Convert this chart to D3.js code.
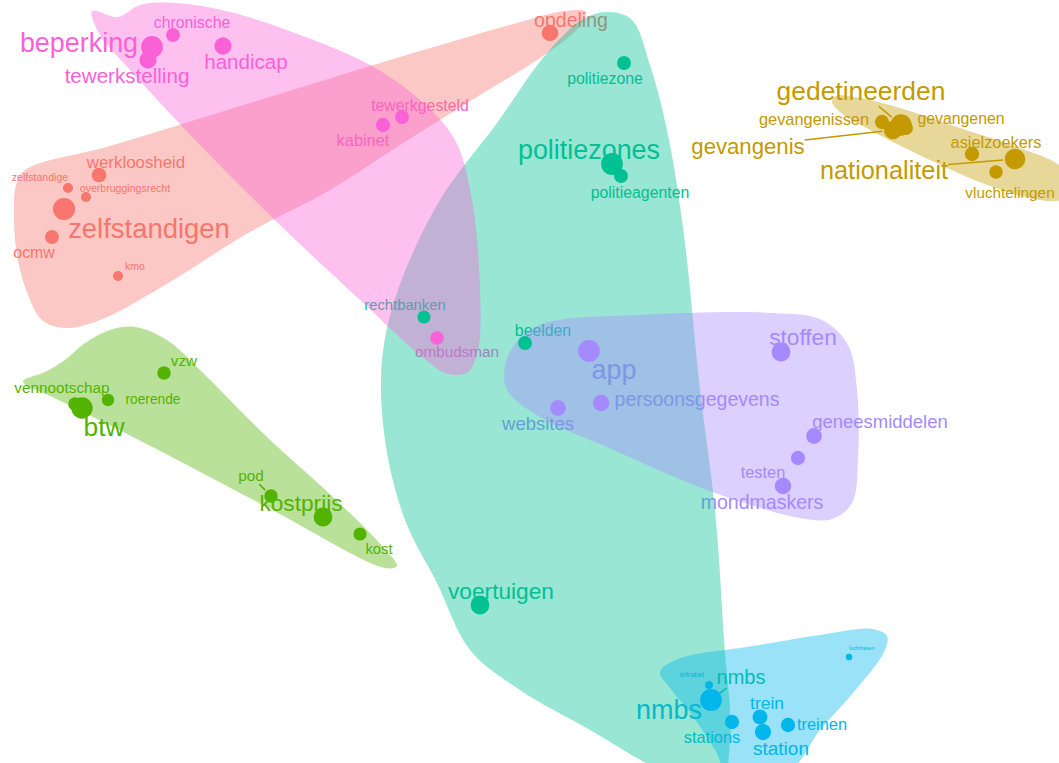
<!DOCTYPE html>
<html>
<head>
<meta charset="utf-8">
<script src="https://cdn.jsdelivr.net/npm/d3@7"></script>
<style>
  body { margin: 0; background: #fff; }
  svg { display: block; font-family: "Liberation Sans", Arial, sans-serif; }
</style>
</head>
<body>
<div id="app"></div>
<script>
// Words, their cluster, embedding position and frequency
const words = [
  "werkloosheid", "zelfstandige", "overbruggingsrecht", "zelfstandigen", "ocmw", "kmo", "opdeling",
  "gedetineerden", "gevangenissen", "gevangenen", "gevangenis", "asielzoekers", "nationaliteit", "vluchtelingen",
  "vennootschap", "btw", "roerende", "vzw", "pod", "kostprijs", "kost",
  "politiezone", "politiezones", "politieagenten", "rechtbanken", "beelden", "voertuigen", "nmbs",
  "infrabel", "nmbs", "stations", "trein", "station", "treinen", "luchthaven",
  "app", "stoffen", "persoonsgegevens", "websites", "geneesmiddelen", "testen", "mondmaskers",
  "beperking", "tewerkstelling", "chronische", "handicap", "tewerkgesteld", "kabinet", "ombudsman"
];
const cluster = [
  1, 1, 1, 1, 1, 1, 1,
  2, 2, 2, 2, 2, 2, 2,
  3, 3, 3, 3, 3, 3, 3,
  4, 4, 4, 4, 4, 4, 4,
  5, 5, 5, 5, 5, 5, 5,
  6, 6, 6, 6, 6, 6, 6,
  7, 7, 7, 7, 7, 7, 7
];
const dim1 = [
  9.9, 6.8, 8.6, 6.4, 5.2, 11.8, 55.0,
  90.1, 88.2, 90.6, 89.3, 97.2, 101.5, 99.6,
  7.5, 8.2, 10.8, 16.4, 27.1, 32.3, 36.0,
  62.4, 61.2, 62.1, 42.4, 52.5, 48.0, 71.1,
  70.9, 71.1, 73.2, 76.0, 76.3, 78.8, 84.9,
  58.9, 78.1, 60.1, 55.8, 81.4, 79.8, 78.3,
  15.2, 14.8, 17.3, 22.3, 40.2, 38.3, 43.7
];
const dim2 = [
  58.8, 57.5, 56.6, 55.4, 52.6, 48.7, 73.0,
  63.8, 64.1, 63.5, 63.3, 60.9, 60.4, 59.1,
  35.9, 35.5, 36.3, 39.0, 26.7, 24.6, 22.9,
  70.0, 59.9, 58.7, 44.6, 42.0, 15.8, 6.3,
  7.8, 6.3, 4.1, 4.6, 3.1, 3.8, 10.6,
  41.2, 41.1, 36.0, 35.5, 32.7, 30.5, 27.7,
  71.6, 70.3, 72.8, 71.7, 64.6, 63.8, 42.5
];
const freq = [
  64, 40, 40, 104, 60, 40, 74,
  100, 62, 60, 84, 62, 96, 58,
  58, 100, 52, 58, 58, 86, 56,
  60, 102, 60, 56, 60, 86, 76,
  28, 102, 62, 66, 72, 62, 20,
  102, 86, 74, 70, 70, 62, 74,
  102, 78, 60, 78, 60, 62, 58
];

const clusterIds = [1, 2, 3, 4, 5, 6, 7];
const clusterColors = ["#F8766D", "#C49A00", "#53B400", "#00C094", "#00B6EB", "#A58AFF", "#FB61D7"];

// Cluster outlines (embedding units)
const hull1 = [[2.5,59.3],[11.0,61.7],[25.0,66.0],[40.0,70.6],[51.0,73.8],[56.5,75.2],[58.6,75.1],[57.8,73.5],[54.0,70.5],[48.0,66.8],[40.0,61.8],[33.0,57.3],[25.0,53.1],[16.0,47.5],[10.0,44.3],[6.5,43.5],[4.2,44.3],[2.8,46.8],[1.7,50.8],[1.4,54.8],[1.6,57.8]];
const hull2 = [[83.6,66.7],[85.5,66.6],[90.0,65.5],[96.0,63.5],[102.0,61.5],[105.9,59.8],[107.5,57.8],[106.0,56.3],[104.0,56.3],[99.0,57.7],[93.0,60.3],[87.0,63.3],[84.0,65.1],[83.2,66.1]];
const hull3 = [[2.3,38.2],[4.5,39.1],[6.5,40.3],[8.5,42.0],[11.0,43.3],[13.5,43.6],[16.7,42.3],[20.0,39.3],[26.7,32.6],[33.3,26.6],[38.3,21.6],[39.7,19.7],[38.5,19.5],[26.7,25.6],[13.3,32.6],[5.0,36.7],[2.6,37.8]];
const hull4 = [[61.0,75.1],[63.2,74.3],[65.0,69.8],[66.8,62.8],[68.4,52.8],[70.0,37.3],[71.5,25.3],[72.4,12.3],[73.0,2.3],[71.8,-2.7],[66.0,-0.7],[59.0,3.3],[52.0,7.3],[47.0,11.3],[43.7,18.0],[40.5,24.3],[38.5,32.3],[38.2,40.3],[39.8,47.3],[44.0,56.3],[49.7,64.0],[54.7,71.0],[58.5,74.5]];
const hull5 = [[66.0,9.1],[67.8,10.4],[75.3,11.7],[82.0,12.8],[87.2,13.4],[88.7,12.7],[88.4,11.1],[85.3,7.0],[82.0,3.3],[79.0,-0.7],[73.0,-1.2],[71.5,1.3],[69.2,4.8],[67.0,7.5]];
const hull6 = [[52.0,42.5],[54.5,44.0],[64.0,44.8],[77.3,45.0],[82.2,44.3],[84.8,41.8],[85.7,37.3],[85.8,30.6],[85.2,26.0],[83.2,24.4],[80.0,24.5],[70.7,27.3],[60.7,31.6],[54.0,34.6],[50.7,37.3],[50.6,40.1]];
const hull7 = [[9.2,75.2],[11.8,74.6],[14.0,75.8],[17.5,76.0],[23.0,75.1],[30.0,72.8],[37.0,69.8],[42.0,66.3],[45.5,62.3],[47.2,56.3],[48.0,47.3],[47.8,41.3],[46.8,39.1],[44.8,38.9],[42.0,40.8],[36.0,46.3],[28.0,53.8],[20.0,61.8],[13.0,69.3],[10.0,72.8]];
const hulls = [hull1, hull2, hull3, hull4, hull5, hull6, hull7];

// Label placement (pixel nudges from the point), like ggrepel output
const labelNudge = [
  [37,-13], [-28,-11], [39,-9], [85,19], [-18,15], [17,-10], [21,-13],
  [-40,-34], [-68,-3], [55,-10], [-145,16], [24,-12], [-131,11], [14,21],
  [-13,-16], [22,19], [45,-1], [20,-12], [-20,-20], [-22,-14], [19,15],
  [-19,15], [-23,-14], [19,16], [-19,-12], [18,-13], [21,-14], [30,-23],
  [-17,-11], [-42,10], [-20,15], [7,-14], [18,16], [34,-1], [13,-9],
  [25,19], [22,-15], [96,-4], [-20,16], [66,-14], [-35,14], [-21,16],
  [-73,-4], [-21,16], [19,-13], [23,16], [18,-12], [-20,15], [20,14]
];
const withSegment = [7, 10, 12, 18, 27];

const width = 1059;
const height = 763;

const xScale = d3.scaleLinear().domain([0, 105.9]).range([0, width]);
const yScale = d3.scaleLinear().domain([0, 76.3]).range([height, 0]);
const fontScale = d3.scaleLinear().domain([0, 100]).range([0, 26.4]);
const rScale = d3.scaleLinear().domain([0, 100]).range([1.3, 10.7]);
const color = d3.scaleOrdinal().domain(clusterIds).range(clusterColors);

const data = words.map((w, i) => ({
  word: w,
  cluster: cluster[i],
  x: dim1[i],
  y: dim2[i],
  freq: freq[i],
  i: i
}));

const svg = d3.select("#app")
  .append("svg")
  .attr("width", width)
  .attr("height", height);

// Labels (drawn first, hulls go over them)
const labels = svg.append("g").attr("class", "labels");

const texts = labels.selectAll("text")
  .data(data)
  .enter()
  .append("text")
  .attr("x", d => xScale(d.x) + labelNudge[d.i][0])
  .attr("y", d => yScale(d.y) + labelNudge[d.i][1])
  .attr("dy", "0.35em")
  .attr("text-anchor", "middle")
  .attr("font-size", d => fontScale(d.freq))
  .attr("fill", d => color(d.cluster))
  .text(d => d.word);

// Segments from label box to point
texts.each(function(d) {
  if (!withSegment.includes(d.i)) return;
  const b = this.getBBox();
  const cx = b.x + b.width / 2, cy = b.y + b.height / 2;
  const px = xScale(d.x), py = yScale(d.y);
  const dx = px - cx, dy = py - cy;
  const t = Math.min(
    dx === 0 ? Infinity : (b.width / 2) / Math.abs(dx),
    dy === 0 ? Infinity : (b.height / 2) / Math.abs(dy)
  );
  const len = Math.hypot(dx, dy);
  const pad = rScale(d.freq) + 1.5;
  labels.append("line")
    .attr("x1", cx + dx * t)
    .attr("y1", cy + dy * t)
    .attr("x2", px - dx / len * pad)
    .attr("y2", py - dy / len * pad)
    .attr("stroke", color(d.cluster))
    .attr("stroke-width", 1.5);
});

// Cluster hulls
const hullLine = d3.line()
  .x(d => xScale(d[0]))
  .y(d => yScale(d[1]))
  .curve(d3.curveCatmullRomClosed.alpha(0.5));

svg.append("g")
  .selectAll("path")
  .data(clusterIds)
  .enter()
  .append("path")
  .attr("d", (c, k) => hullLine(hulls[k]))
  .attr("fill", c => color(c))
  .attr("fill-opacity", 0.4);

// Points
svg.append("g")
  .selectAll("circle")
  .data(data)
  .enter()
  .append("circle")
  .attr("cx", d => xScale(d.x))
  .attr("cy", d => yScale(d.y))
  .attr("r", d => rScale(d.freq))
  .attr("fill", d => color(d.cluster));
</script>
</body>
</html>
